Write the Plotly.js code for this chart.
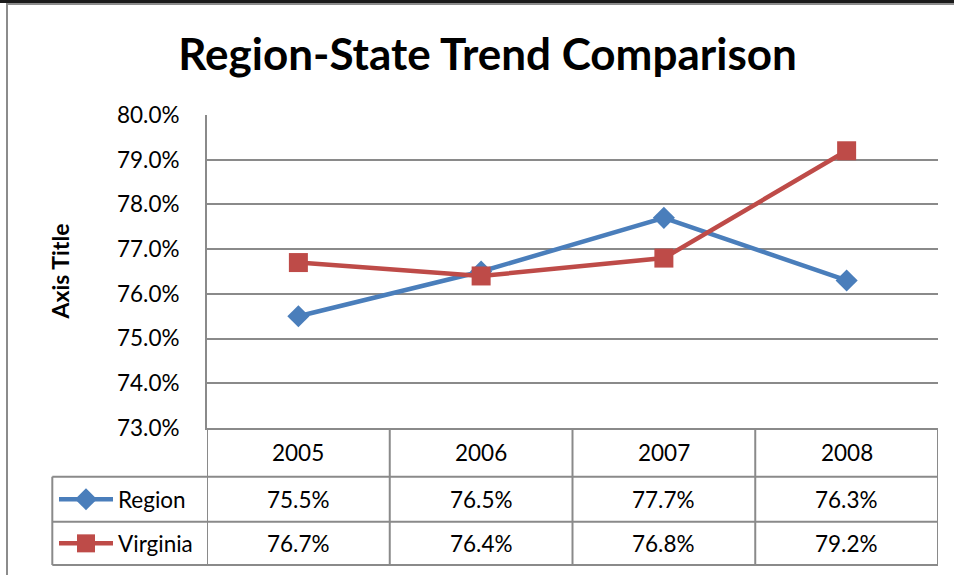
<!DOCTYPE html>
<html>
<head>
<meta charset="utf-8">
<script src="https://cdn.plot.ly/plotly-3.0.1.min.js"></script>
<style>html,body{margin:0;padding:0;background:#fff;}#chart{width:954px;height:575px;}</style>
</head>
<body>
<div id="chart"></div>
<script>
const years = ["2005", "2006", "2007", "2008"];
const regionValues = [0.755, 0.765, 0.777, 0.763];
const virginiaValues = [0.767, 0.764, 0.768, 0.792];
const seriesNames = ["Region", "Virginia"];
const seriesColors = ["#4A7EBB", "#BE4B48"];
const yTicks = [0.73, 0.74, 0.75, 0.76, 0.77, 0.78, 0.79, 0.80];

const FONT = "Lato, 'Open Sans', sans-serif";
const gridColor = "#8a8a8a";
const tableColor = "#8a8a8a";
const TXT = 22.5;

// layout geometry (pixels)
const W = 954, H = 575, L = 207, R = 938, T = 115, B = 428;
const pw = R - L, ph = B - T;
const px = v => (v - L) / pw;
const py = v => (B - v) / ph;

const xIdx = years.map((_, i) => i);

const traces = [
  {
    x: xIdx, y: regionValues, name: seriesNames[0], type: "scatter", mode: "lines+markers",
    line: {color: seriesColors[0], width: 4.5},
    marker: {symbol: "diamond", size: 17, color: seriesColors[0]},
    cliponaxis: false, showlegend: false
  },
  {
    x: xIdx, y: virginiaValues, name: seriesNames[1], type: "scatter", mode: "lines+markers",
    line: {color: seriesColors[1], width: 4.5},
    marker: {symbol: "square", size: 19, color: seriesColors[1]},
    cliponaxis: false, showlegend: false
  }
];

const rowTop = [B, 476.7, 521.7];
const rowBottom = [476.7, 521.7, 565];
const shapes = [];
const ann = [];

// outer frame
shapes.push({type: "rect", xref: "paper", yref: "paper", x0: px(0), x1: px(W), y0: py(0), y1: py(3), fillcolor: "#1a1a1a", line: {width: 0}});
shapes.push({type: "rect", xref: "paper", yref: "paper", x0: px(6), x1: px(W), y0: py(3), y1: py(5), fillcolor: "#8c8c8c", line: {width: 0}});
shapes.push({type: "rect", xref: "paper", yref: "paper", x0: px(6), x1: px(8), y0: py(3), y1: py(H), fillcolor: "#8c8c8c", line: {width: 0}});

// table vertical lines at category boundaries
for (let i = 0; i <= years.length; i++) {
  shapes.push({type: "line", xref: "x", yref: "paper", x0: i - 0.5, x1: i - 0.5, y0: py(B), y1: py(565), line: {color: tableColor, width: 2}});
}
// legend column left edge
shapes.push({type: "line", xref: "paper", yref: "paper", x0: px(52.3), x1: px(52.3), y0: py(476.7), y1: py(565), line: {color: tableColor, width: 2}});
// horizontal table lines
[476.7, 521.7, 565].forEach(v => {
  shapes.push({type: "line", xref: "paper", yref: "paper", x0: px(52.3), x1: px(R), y0: py(v), y1: py(v), line: {color: tableColor, width: 2}});
});

// header row
years.forEach((yr, i) => {
  ann.push({xref: "x", yref: "paper", x: i, y: py((rowTop[0] + rowBottom[0]) / 2), text: yr, showarrow: false,
    font: {family: FONT, size: TXT, color: "#000"}, xanchor: "center", yanchor: "middle"});
});
const allValues = [regionValues, virginiaValues];
const symbols = ["diamond", "square"];
allValues.forEach((vals, r) => {
  const cy = (rowTop[r + 1] + rowBottom[r + 1]) / 2;
  vals.forEach((v, i) => {
    ann.push({xref: "x", yref: "paper", x: i, y: py(cy), text: (v * 100).toFixed(1) + "%", showarrow: false,
      font: {family: FONT, size: TXT, color: "#000"}, xanchor: "center", yanchor: "middle"});
  });
  // legend key
  shapes.push({type: "line", xref: "paper", yref: "paper", x0: px(59), x1: px(113), y0: py(cy), y1: py(cy),
    line: {color: seriesColors[r], width: 4.5}});
  if (symbols[r] === "square") {
    shapes.push({type: "rect", xref: "paper", yref: "paper", xsizemode: "pixel", ysizemode: "pixel",
      xanchor: px(86), yanchor: py(cy), x0: -9, x1: 9, y0: -9, y1: 9, fillcolor: seriesColors[r], line: {width: 0}});
  } else {
    shapes.push({type: "path", xref: "paper", yref: "paper", xsizemode: "pixel", ysizemode: "pixel",
      xanchor: px(86), yanchor: py(cy), path: "M -11 0 L 0 11 L 11 0 L 0 -11 Z", fillcolor: seriesColors[r], line: {width: 0}});
  }
  ann.push({xref: "paper", yref: "paper", x: px(116), y: py(cy), text: seriesNames[r], showarrow: false,
    font: {family: FONT, size: TXT, color: "#000"}, xanchor: "left", yanchor: "middle"});
});

// y axis title
ann.push({xref: "paper", yref: "paper", x: px(59), y: py(271.5), text: "<b>Axis Title</b>", textangle: -90, showarrow: false,
  font: {family: FONT, size: 23, color: "#000"}, xanchor: "center", yanchor: "middle"});

const layout = {
  width: W, height: H,
  margin: {l: L, r: W - R, t: T, b: H - B, pad: 0},
  paper_bgcolor: "#fff", plot_bgcolor: "#fff",
  title: {text: "Region-State Trend Comparison", font: {family: FONT, size: 44, weight: "bold", color: "#000"},
    x: 487.5 / W, xanchor: "center", y: 1 - 55 / H, yanchor: "middle", xref: "container", yref: "container"},
  xaxis: {range: [-0.5, 3.5], showticklabels: false, showgrid: false, zeroline: false, ticks: "",
    showline: true, linecolor: gridColor, linewidth: 2, fixedrange: true},
  yaxis: {range: [0.73, 0.80], tickvals: yTicks, tickformat: ".1%", showgrid: true, gridcolor: gridColor, gridwidth: 2,
    zeroline: false, showline: true, linecolor: gridColor, linewidth: 2, ticks: "", ticklabelstandoff: 21,
    tickfont: {family: FONT, size: TXT, color: "#000"},
    fixedrange: true},
  shapes: shapes,
  annotations: ann,
  showlegend: false
};

Plotly.newPlot("chart", traces, layout, {displayModeBar: false, staticPlot: true});
</script>
</body>
</html>
